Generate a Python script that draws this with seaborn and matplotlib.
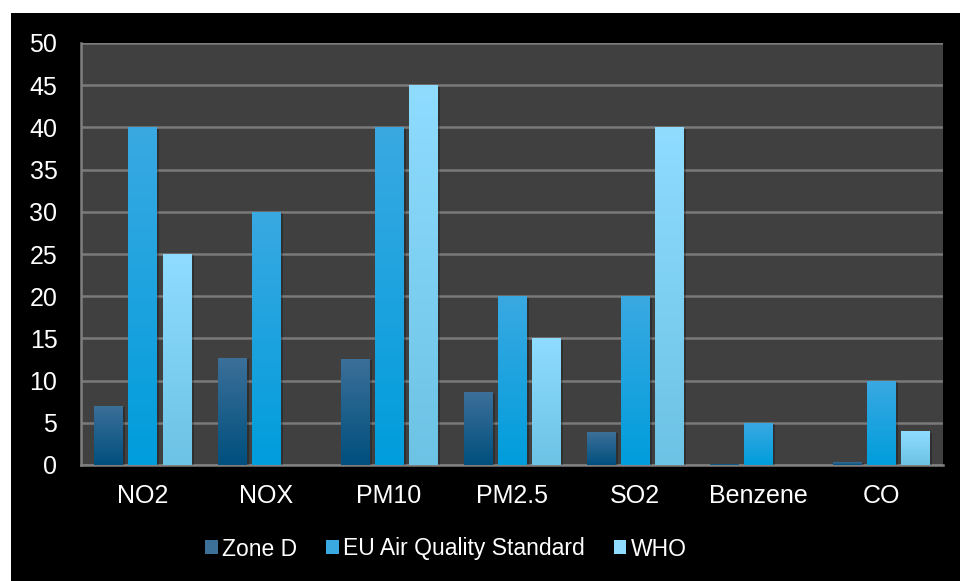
import numpy as np
import pandas as pd
import matplotlib
matplotlib.use("Agg")
import matplotlib.pyplot as plt
import seaborn as sns
from matplotlib.patches import Rectangle
import matplotlib.patheffects as pe

# Pollutant concentrations (µg/m³) against limit values
pollutants = ["NO2", "NOX", "PM10", "PM2.5", "SO2", "Benzene", "CO"]
zone_d = [7.0, 12.7, 12.6, 8.6, 3.9, 0.15, 0.35]
eu_standard = [40, 30, 40, 20, 20, 5, 10]
who = [25, np.nan, 45, 15, 40, np.nan, 4]
series_names = ["Zone D", "EU Air Quality Standard", "WHO"]
y_ticks = [0, 5, 10, 15, 20, 25, 30, 35, 40, 45, 50]

# (top colour, bottom colour) of each series' vertical gradient
gradients = {
    "Zone D": ("#3c7099", "#004f7e"),
    "EU Air Quality Standard": ("#3aa9e2", "#009ddc"),
    "WHO": ("#8fdcff", "#6cc3e4"),
}
solid = {k: v[1] for k, v in gradients.items()}

df = pd.DataFrame({
    "pollutant": pollutants * 3,
    "series": [series_names[0]] * 7 + [series_names[1]] * 7 + [series_names[2]] * 7,
    "value": zone_d + eu_standard + who,
})

sns.set_theme(style="dark")
plt.rcParams["font.family"] = ["Liberation Sans", "DejaVu Sans"]

fig = plt.figure(figsize=(9.6, 5.81), dpi=100)
fig.patch.set_facecolor("white")
# black panel behind the chart
fig.add_artist(Rectangle((11 / 960, 0), 1, (581 - 13) / 581, transform=fig.transFigure,
                         facecolor="black", edgecolor="none", zorder=0))

ax = fig.add_axes([81 / 960, (581 - 465) / 581, (943 - 81) / 960, (465 - 43) / 581])
ax.set_facecolor("#404040")

sns.barplot(data=df, x="pollutant", y="value", hue="series", order=pollutants,
            hue_order=series_names, palette=solid, width=0.83, gap=0.17,
            ax=ax, legend=False, saturation=1, zorder=3, linewidth=0, edgecolor="none")

ax.set_ylim(0, 50)
ax.set_xlim(-0.5, len(pollutants) - 0.5)
ax.set_yticks(y_ticks)
ax.set_yticklabels([str(t) for t in y_ticks])
ax.set_xlabel("")
ax.set_ylabel("")
ax.tick_params(axis="both", colors="white", labelsize=18, length=0)
ax.tick_params(axis="y", pad=17)
ax.tick_params(axis="x", pad=14)
ax.yaxis.grid(True, color="#7a7a7a", linewidth=1.8, zorder=1)
ax.xaxis.grid(False)
ax.set_axisbelow(True)
for side in ["top", "right"]:
    ax.spines[side].set_visible(False)
for side in ["left", "bottom"]:
    ax.spines[side].set_visible(True)
    ax.spines[side].set_color("#808080")
    ax.spines[side].set_linewidth(1.8)

# gradient fill and soft shadow for each bar
for container, name in zip(ax.containers, series_names):
    top, bottom = gradients[name]
    cmap = matplotlib.colors.LinearSegmentedColormap.from_list(name, [bottom, top])
    for bar in container.patches:
        h = bar.get_height()
        if not np.isfinite(h) or h <= 0:
            continue
        bar.set_path_effects([pe.SimplePatchShadow(offset=(2, -1), shadow_rgbFace="black", alpha=0.25),
                              pe.Normal()])
        x0, w = bar.get_x(), bar.get_width()
        grad = np.linspace(0, 1, 256).reshape(-1, 1)
        im = ax.imshow(grad, cmap=cmap, origin="lower", aspect="auto",
                       extent=(x0, x0 + w, 0, h), zorder=4, interpolation="bicubic")
        im.set_clip_path(bar)

ax.set_xlim(-0.5, len(pollutants) - 0.5)
ax.set_ylim(0, 50)

handles = [Rectangle((0, 0), 1, 1, facecolor=gradients[n][0], edgecolor="none") for n in series_names]
fig.legend(handles, series_names, loc="center", bbox_to_anchor=(446 / 960, (581 - 549) / 581),
           ncol=3, frameon=False, fontsize=16.5, labelcolor="white",
           handlelength=0.55, handleheight=0.55, handletextpad=0.2, columnspacing=1.25,
           borderpad=0, borderaxespad=0)

fig.savefig("out.png", dpi=100, facecolor=fig.get_facecolor())
